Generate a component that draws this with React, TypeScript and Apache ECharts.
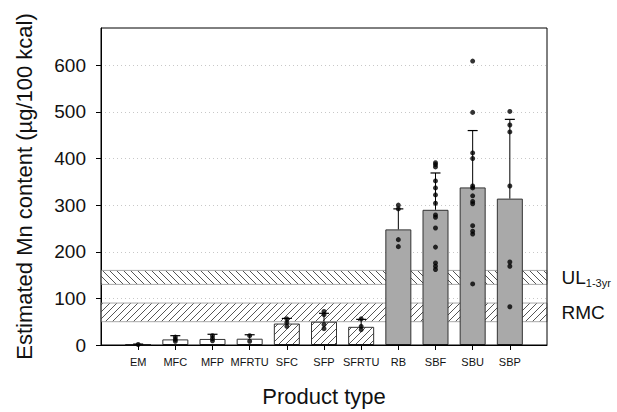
import React, { useEffect, useRef } from 'react';
import * as echarts from 'echarts';

const categories = ['EM', 'MFC', 'MFP', 'MFRTU', 'SFC', 'SFP', 'SFRTU', 'RB', 'SBF', 'SBU', 'SBP'];
const means = [1, 12, 13, 13.5, 46, 50, 39, 248, 290, 338, 314];
const upperBars = [2, 20, 23, 22, 57, 68, 55, 292, 369, 460, 484];
const fillKinds = ['white', 'white', 'white', 'white', 'hatch', 'hatch', 'hatch', 'gray', 'gray', 'gray', 'gray'];
const points: number[][] = [
  [1],
  [17, 12, 8],
  [20, 14, 9],
  [20, 8],
  [56, 48, 40],
  [72, 65, 44, 35],
  [56, 40, 33],
  [300, 292, 226, 211],
  [391, 387, 382, 352, 337, 322, 304, 279, 274, 251, 210, 176, 169, 162],
  [609, 499, 412, 400, 341, 337, 320, 308, 303, 256, 244, 238, 131],
  [501, 472, 457, 341, 178, 169, 82],
];
const ulBand = [130, 160];
const rmcBand = [50, 90];
const yTicks = { min: 0, max: 680, interval: 100 };

function makeHatch(dir: 'up' | 'down', color: string, size: number): HTMLCanvasElement {
  const c = document.createElement('canvas');
  c.width = size;
  c.height = size;
  const ctx = c.getContext('2d')!;
  ctx.fillStyle = '#ffffff';
  ctx.fillRect(0, 0, size, size);
  ctx.strokeStyle = color;
  ctx.lineWidth = 1;
  ctx.beginPath();
  if (dir === 'up') {
    ctx.moveTo(0, size); ctx.lineTo(size, 0);
    ctx.moveTo(-1, 1); ctx.lineTo(1, -1);
    ctx.moveTo(size - 1, size + 1); ctx.lineTo(size + 1, size - 1);
  } else {
    ctx.moveTo(0, 0); ctx.lineTo(size, size);
    ctx.moveTo(-1, size - 1); ctx.lineTo(1, size + 1);
    ctx.moveTo(size - 1, -1); ctx.lineTo(size + 1, 1);
  }
  ctx.stroke();
  return c;
}

export default function App() {
  const ref = useRef<HTMLDivElement>(null);
  useEffect(() => {
    document.body.style.margin = '0';
    const chart = echarts.init(ref.current!, undefined, { renderer: 'svg' });
    const size = 7;
    const up = makeHatch('up', '#555', size);
    const down = makeHatch('down', '#555', size);
    const pat = (cv: HTMLCanvasElement) => ({ image: cv, repeat: 'repeat', imageWidth: size, imageHeight: size } as any);

    const axisCats = ['', ...categories, ''];
    const barData: any[] = ['-'];
    categories.forEach((_, i) => {
      const kind = fillKinds[i];
      const color = kind === 'gray' ? '#a9a9a9' : kind === 'hatch' ? pat(up) : '#ffffff';
      barData.push({ value: means[i], itemStyle: { color, borderColor: '#333', borderWidth: 1 } });
    });
    barData.push('-');

    const errData = categories.map((_, i) => [i + 1, means[i], upperBars[i]]);
    const dotData: number[][] = [];
    points.forEach((arr, i) => arr.forEach((v) => dotData.push([i + 1, v])));

    const font = 'Liberation Sans, Arial, sans-serif';

    chart.setOption({
      animation: false,
      textStyle: { fontFamily: font, color: '#111' },
      grid: { left: 101, right: 70, top: 28, bottom: 64, show: true, borderColor: '#000', borderWidth: 1, z: 10 },
      xAxis: {
        type: 'category',
        data: axisCats,
        boundaryGap: false,
        name: 'Product type',
        nameLocation: 'middle',
        nameGap: 40,
        nameTextStyle: { fontSize: 22, color: '#111', fontFamily: font },
        axisLine: { lineStyle: { color: '#000', width: 1 } },
        axisTick: { length: 5, interval: (idx: number) => idx > 0 && idx < axisCats.length - 1, lineStyle: { color: '#000' } },
        axisLabel: { interval: 0, fontSize: 11, color: '#111', margin: 11 },
        splitLine: { show: false },
      },
      yAxis: {
        type: 'value',
        min: yTicks.min,
        max: yTicks.max,
        interval: yTicks.interval,
        name: 'Estimated Mn content (µg/100 kcal)',
        nameLocation: 'middle',
        nameGap: 66,
        nameTextStyle: { fontSize: 22, color: '#111', fontFamily: font },
        axisLine: { show: true, lineStyle: { color: '#000', width: 1 } },
        axisTick: { show: true, length: 5, lineStyle: { color: '#000' } },
        axisLabel: { fontSize: 19, color: '#111', margin: 15, showMaxLabel: false },
        splitLine: { show: true, showMinLine: false, showMaxLine: false, lineStyle: { type: [1, 3], color: '#c8c8c8', width: 1 } },
      },
      graphic: [],
      series: [
        {
          type: 'line',
          z: 1,
          data: axisCats.map(() => '-'),
          showSymbol: false,
          silent: true,
          markArea: {
            silent: true,
            data: [
              [
                {
                  yAxis: ulBand[0],
                  itemStyle: { color: pat(down), borderColor: '#aaa', borderWidth: 1 },
                  label: {
                    show: true,
                    position: 'right',
                    distance: 14,
                    formatter: '{a|UL}{b|1-3yr}',
                    rich: {
                      a: { fontSize: 19, lineHeight: 22, color: '#111', fontFamily: font },
                      b: { fontSize: 11, lineHeight: 11, verticalAlign: 'bottom', color: '#111', fontFamily: font },
                    },
                  },
                },
                { yAxis: ulBand[1] },
              ],
              [
                {
                  yAxis: rmcBand[0],
                  itemStyle: { color: pat(up), borderColor: '#aaa', borderWidth: 1 },
                  label: { show: true, position: 'right', distance: 14, formatter: 'RMC', fontSize: 19, color: '#111', fontFamily: font },
                },
                { yAxis: rmcBand[1] },
              ],
            ],
          },
        },
        {
          type: 'bar',
          z: 3,
          barWidth: 26,
          data: barData,
          silent: true,
        },
        {
          type: 'custom',
          z: 4,
          silent: true,
          data: errData,
          encode: { x: 0, y: [1, 2] },
          renderItem: (params: any, api: any) => {
            const x = api.value(0);
            const m = api.value(1);
            const u = api.value(2);
            const p0 = api.coord([x, m]);
            const p1 = api.coord([x, u]);
            return {
              type: 'group',
              children: [
                { type: 'line', shape: { x1: p0[0], y1: p0[1], x2: p1[0], y2: p1[1] }, style: { stroke: '#000', lineWidth: 1 } },
                { type: 'line', shape: { x1: p1[0] - 5, y1: p1[1], x2: p1[0] + 5, y2: p1[1] }, style: { stroke: '#000', lineWidth: 1.2 } },
              ],
            };
          },
        },
        {
          type: 'scatter',
          z: 5,
          silent: true,
          symbolSize: 5,
          itemStyle: { color: '#000' },
          data: dotData,
        },
      ],
    });
    return () => chart.dispose();
  }, []);
  return <div ref={ref} style={{ width: 617, height: 412, position: 'absolute', left: 0, top: 0 }} />;
}
